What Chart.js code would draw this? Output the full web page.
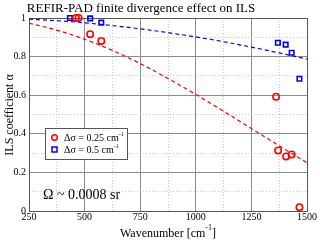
<!DOCTYPE html>
<html><head><meta charset="utf-8">
<script src="https://cdn.jsdelivr.net/npm/chart.js@4/dist/chart.umd.min.js"></script>
<style>html,body{margin:0;padding:0;background:#fff}#wrap{width:320px;height:242px}</style>
</head><body><div id="wrap"><canvas id="c" width="320" height="242"></canvas></div>
<script>
// Measured points
const wn025 = [461, 473, 525, 575, 1361, 1370, 1406, 1431, 1466];
const alpha025 = [1.0, 1.0, 0.916, 0.881, 0.592, 0.314, 0.283, 0.293, 0.02];
const wn05 = [434, 525, 575, 1369, 1404, 1431, 1466];
const alpha05 = [1.0, 0.998, 0.976, 0.872, 0.862, 0.82, 0.685];
// Fitted curves
const fitWn = [250, 375, 500, 625, 750, 875, 1000, 1125, 1250, 1375, 1500];
const fit025 = [0.973, 0.937, 0.890, 0.832, 0.764, 0.687, 0.604, 0.517, 0.427, 0.338, 0.250];
const fit05 = [0.994, 0.986, 0.975, 0.961, 0.944, 0.924, 0.902, 0.877, 0.849, 0.819, 0.787];
const xTicks = [250, 500, 750, 1000, 1250, 1500];
const yTicks = [0, 0.2, 0.4, 0.6, 0.8, 1];
const titleText = 'REFIR-PAD finite divergence effect on ILS';
const xTitle = ['Wavenumber [cm', '-1', ']'];
const yTitle = 'ILS coefficient α';
const legendLabels = [['Δσ = 0.25 cm', '-1'], ['Δσ = 0.5 cm', '-1']];
const noteText = 'Ω ~ 0.0008 sr';

const SERIF = '"Liberation Serif", "Times New Roman", serif';
const RED = '#ff0000', BLUE = '#0000ff';
const pts = (xs, ys) => xs.map((x, i) => ({x, y: ys[i]}));

const overlay = {
  id: 'overlay',
  afterDraw(chart) {
    const ctx = chart.ctx, a = chart.chartArea;
    ctx.save();
    ctx.fillStyle = '#000';
    // title
    ctx.font = '13px ' + SERIF;
    ctx.textAlign = 'center'; ctx.textBaseline = 'alphabetic';
    ctx.fillText(titleText, 141, 12);
    // x title with superscript
    ctx.font = '12px ' + SERIF;
    const w0 = ctx.measureText(xTitle[0]).width;
    ctx.font = '8px ' + SERIF;
    const w1 = ctx.measureText(xTitle[1]).width;
    ctx.font = '12px ' + SERIF;
    const w2 = ctx.measureText(xTitle[2]).width;
    let sx = 168 - (w0 + w1 + w2) / 2;
    const by = 237;
    ctx.textAlign = 'left';
    ctx.fillText(xTitle[0], sx, by);
    ctx.font = '8px ' + SERIF;
    ctx.fillText(xTitle[1], sx + w0, by - 7);
    ctx.font = '12px ' + SERIF;
    ctx.fillText(xTitle[2], sx + w0 + w1, by);
    // y title
    ctx.save();
    ctx.translate(13, 115);
    ctx.rotate(-Math.PI / 2);
    ctx.textAlign = 'center';
    ctx.font = '12px ' + SERIF;
    ctx.fillText(yTitle, 0, 0);
    ctx.restore();
    // note
    ctx.font = '14px ' + SERIF;
    ctx.textAlign = 'left';
    ctx.fillText(noteText, 43, 199);
    // legend box
    ctx.fillStyle = '#fff';
    ctx.fillRect(45.5, 128.5, 82, 31);
    ctx.strokeStyle = '#555'; ctx.lineWidth = 1;
    ctx.strokeRect(45.5, 128.5, 82, 31);
    const ds = chart.data.datasets;
    [0, 1].forEach(i => {
      const y = 137.5 + i * 12;
      ctx.strokeStyle = ds[i].borderColor; ctx.lineWidth = 1.5;
      ctx.beginPath();
      if (ds[i].pointStyle === 'rect') ctx.rect(52, y - 2.5, 5, 5);
      else ctx.arc(54.5, y, 2.8, 0, Math.PI * 2);
      ctx.stroke();
      ctx.fillStyle = '#000';
      ctx.font = '10px ' + SERIF;
      ctx.textBaseline = 'middle';
      ctx.fillText(legendLabels[i][0], 64, y + 1);
      const lw = ctx.measureText(legendLabels[i][0]).width;
      ctx.font = '6px ' + SERIF;
      ctx.fillText(legendLabels[i][1], 64 + lw, y - 3);
    });
    ctx.restore();
  }
};

const majorGrid = '#8c8c8c';
const minorGrid = '#c8c8c8';

new Chart(document.getElementById('c'), {
  type: 'scatter',
  data: {
    datasets: [
      {label: 'Δσ = 0.25 cm-1', data: pts(wn025, alpha025), borderColor: RED, backgroundColor: 'rgba(0,0,0,0)',
       pointStyle: 'circle', pointRadius: 3.2, borderWidth: 1.6, pointHoverRadius: 3.2, clip: false},
      {label: 'Δσ = 0.5 cm-1', data: pts(wn05, alpha05), borderColor: BLUE, backgroundColor: 'rgba(0,0,0,0)',
       pointStyle: 'rect', pointRadius: 3.2, borderWidth: 1.6, pointHoverRadius: 3.2, clip: false},
      {label: 'fit 0.25', data: pts(fitWn, fit025), showLine: true, borderColor: RED, borderWidth: 1.2,
       borderDash: [4, 3], pointRadius: 0, cubicInterpolationMode: 'monotone', fill: false},
      {label: 'fit 0.5', data: pts(fitWn, fit05), showLine: true, borderColor: BLUE, borderWidth: 1.2,
       borderDash: [4, 3], pointRadius: 0, cubicInterpolationMode: 'monotone', fill: false}
    ]
  },
  options: {
    responsive: false, animation: false, devicePixelRatio: 1,
    layout: {padding: {left: 0, right: 13, top: 18, bottom: 0}},
    plugins: {legend: {display: false}, tooltip: {enabled: false}, title: {display: false}},
    scales: {
      xMinor: {type: 'linear', position: 'bottom', min: 250, max: 1500,
        afterBuildTicks: s => { s.ticks = fitWn.map(v => ({value: v})); },
        afterFit: s => { s.height = 0; },
        ticks: {display: false}, border: {display: false, dash: [1, 2]},
        grid: {color: c => (c.tick && xTicks.includes(c.tick.value)) ? 'rgba(0,0,0,0)' : minorGrid, drawTicks: false, lineWidth: 1}},
      yMinor: {type: 'linear', position: 'left', min: 0, max: 1,
        afterBuildTicks: s => { s.ticks = [0.1, 0.3, 0.5, 0.7, 0.9].map(v => ({value: v})); },
        afterFit: s => { s.width = 0; },
        ticks: {display: false}, border: {display: false, dash: [1, 2]},
        grid: {color: minorGrid, drawTicks: false, lineWidth: 1}},
      x: {type: 'linear', position: 'bottom', min: 250, max: 1500,
        afterBuildTicks: s => { s.ticks = xTicks.map(v => ({value: v})); },
        afterFit: s => { s.height = 31; },
        ticks: {color: '#000', font: {family: SERIF, size: 10}, padding: 0, maxRotation: 0, autoSkip: false,
          callback: v => String(v)},
        border: {display: true, color: '#555'},
        grid: {color: c => (c.tick && (c.tick.value === 250 || c.tick.value === 1500)) ? '#555' : majorGrid, drawTicks: false, lineWidth: 1}},
      y: {type: 'linear', position: 'left', min: 0, max: 1,
        afterBuildTicks: s => { s.ticks = yTicks.map(v => ({value: v})); },
        afterFit: s => { s.width = 29; },
        ticks: {color: '#000', font: {family: SERIF, size: 10}, padding: 3, autoSkip: false,
          callback: v => String(v)},
        border: {display: true, color: '#555'},
        grid: {color: c => (c.tick && (c.tick.value === 0 || c.tick.value === 1)) ? '#555' : majorGrid, drawTicks: false, lineWidth: 1}}
    }
  },
  plugins: [overlay]
});
</script></body></html>
